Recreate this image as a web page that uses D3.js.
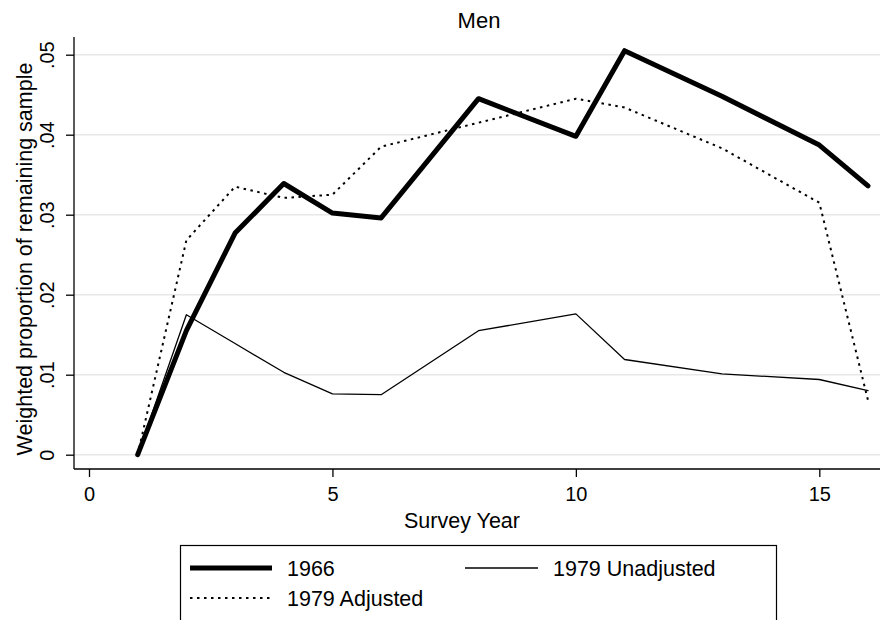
<!DOCTYPE html>
<html>
<head>
<meta charset="utf-8">
<script src="https://cdn.jsdelivr.net/npm/d3@7"></script>
<style>
  body { margin: 0; background: #fff; }
  text { font-family: "Liberation Sans", Arial, sans-serif; fill: #000; }
</style>
</head>
<body>
<script>
// survey years and the three series
const years1966 = [1, 2, 3, 4, 5, 6, 8, 10, 11, 13, 15, 16];
const values1966 = [0, 0.0155, 0.0277, 0.0339, 0.0302, 0.0296, 0.0445, 0.0398, 0.0505, 0.0448, 0.0387, 0.0336];
const yearsUnadj = [1, 2, 3, 4, 5, 6, 8, 10, 11, 13, 15, 16];
const valuesUnadj = [0, 0.0175, 0.0139, 0.0103, 0.0076, 0.0075, 0.0155, 0.0176, 0.0119, 0.0101, 0.0094, 0.0080];
const yearsAdj = [1, 2, 3, 4, 5, 6, 8, 10, 11, 13, 15, 16];
const valuesAdj = [0, 0.0268, 0.0335, 0.0321, 0.0325, 0.0385, 0.0415, 0.0445, 0.0434, 0.0383, 0.0315, 0.0068];
const xTicks = [0, 5, 10, 15];
const yTicks = [0, 0.01, 0.02, 0.03, 0.04, 0.05];
const yTickLabels = ["0", ".01", ".02", ".03", ".04", ".05"];

const width = 880, height = 620;
const svg = d3.select("body").append("svg")
    .attr("width", width)
    .attr("height", height);

let x = d3.scaleLinear().domain([0, 16]).range([89, 868]);
let y = d3.scaleLinear().domain([0, 0.05]).range([454.7, 54.7]);

const axisX = 74, axisY = 469;
const font = "'Liberation Sans', Arial, sans-serif";

// grid
svg.selectAll(".grid")
    .data(yTicks)
    .enter()
    .append("line")
    .attr("x1", axisX).attr("x2", width)
    .attr("y1", d => y(d)).attr("y2", d => y(d))
    .attr("stroke", "#e8e8e8")
    .attr("stroke-width", 1.5);

// y axis
let gy = svg.append("g")
    .attr("transform", "translate(" + axisX + ",0)")
    .call(d3.axisLeft(y).tickValues(yTicks).tickSize(8).tickFormat((d, i) => yTickLabels[i]));
gy.select(".domain").attr("d", "M0,37V" + axisY).attr("stroke-width", 1.3);
gy.selectAll(".tick line").attr("stroke-width", 1.3);
gy.selectAll(".tick text")
    .attr("x", null).attr("dy", null)
    .attr("transform", "translate(-20.5,0)rotate(-90)")
    .style("text-anchor", "middle")
    .style("font-size", "20px")
    .style("font-family", font);

// x axis
let gx = svg.append("g")
    .attr("transform", "translate(0," + axisY + ")")
    .call(d3.axisBottom(x).tickValues(xTicks).tickSize(8));
gx.select(".domain").attr("d", "M" + axisX + ",0H" + width).attr("stroke-width", 1.3);
gx.selectAll(".tick line").attr("stroke-width", 1.3);
gx.selectAll(".tick text")
    .attr("y", 32).attr("dy", null)
    .style("font-size", "20px")
    .style("font-family", font);

// titles
svg.append("text")
    .attr("x", 479).attr("y", 27.5)
    .attr("text-anchor", "middle")
    .style("font-size", "22px")
    .text("Men");
svg.append("text")
    .attr("x", 462).attr("y", 527.5)
    .attr("text-anchor", "middle")
    .style("font-size", "21.5px")
    .text("Survey Year");
svg.append("text")
    .attr("transform", "translate(32,259)rotate(-90)")
    .attr("text-anchor", "middle")
    .style("font-size", "21.5px")
    .text("Weighted proportion of remaining sample");

// series
const series = [
  {name: "1966", xs: years1966, ys: values1966, w: 5, dash: null},
  {name: "1979 Unadjusted", xs: yearsUnadj, ys: valuesUnadj, w: 1.3, dash: null},
  {name: "1979 Adjusted", xs: yearsAdj, ys: valuesAdj, w: 2, dash: "2.5,4.5"}
];

let line = d3.line()
    .x(d => x(d[0]))
    .y(d => y(d[1]));

svg.selectAll(".series")
    .data([series[2], series[1], series[0]])
    .enter()
    .append("path")
    .attr("d", s => line(s.xs.map((v, i) => [v, s.ys[i]])))
    .attr("fill", "none")
    .attr("stroke", "#000")
    .attr("stroke-width", s => s.w)
    .attr("stroke-dasharray", s => s.dash)
    .attr("stroke-linejoin", "round")
    .attr("stroke-linecap", s => s.dash ? "butt" : "round");

// legend
let lg = svg.append("g");
lg.append("rect")
    .attr("x", 180.5).attr("y", 545.5)
    .attr("width", 596).attr("height", 100)
    .attr("fill", "none")
    .attr("stroke", "#000")
    .attr("stroke-width", 1.2);

const legendPos = [[190, 568, 82], [465, 568, 73], [190, 598, 82]];
series.forEach((s, i) => {
  let p = legendPos[i];
  lg.append("line")
      .attr("x1", p[0]).attr("x2", p[0] + p[2])
      .attr("y1", p[1]).attr("y2", p[1])
      .attr("stroke", "#000")
      .attr("stroke-width", s.w)
      .attr("stroke-dasharray", s.dash);
  lg.append("text")
      .attr("x", p[0] + p[2] + 15).attr("y", p[1] + 7.5)
      .style("font-size", "21.5px")
      .text(s.name);
});
</script>
</body>
</html>
